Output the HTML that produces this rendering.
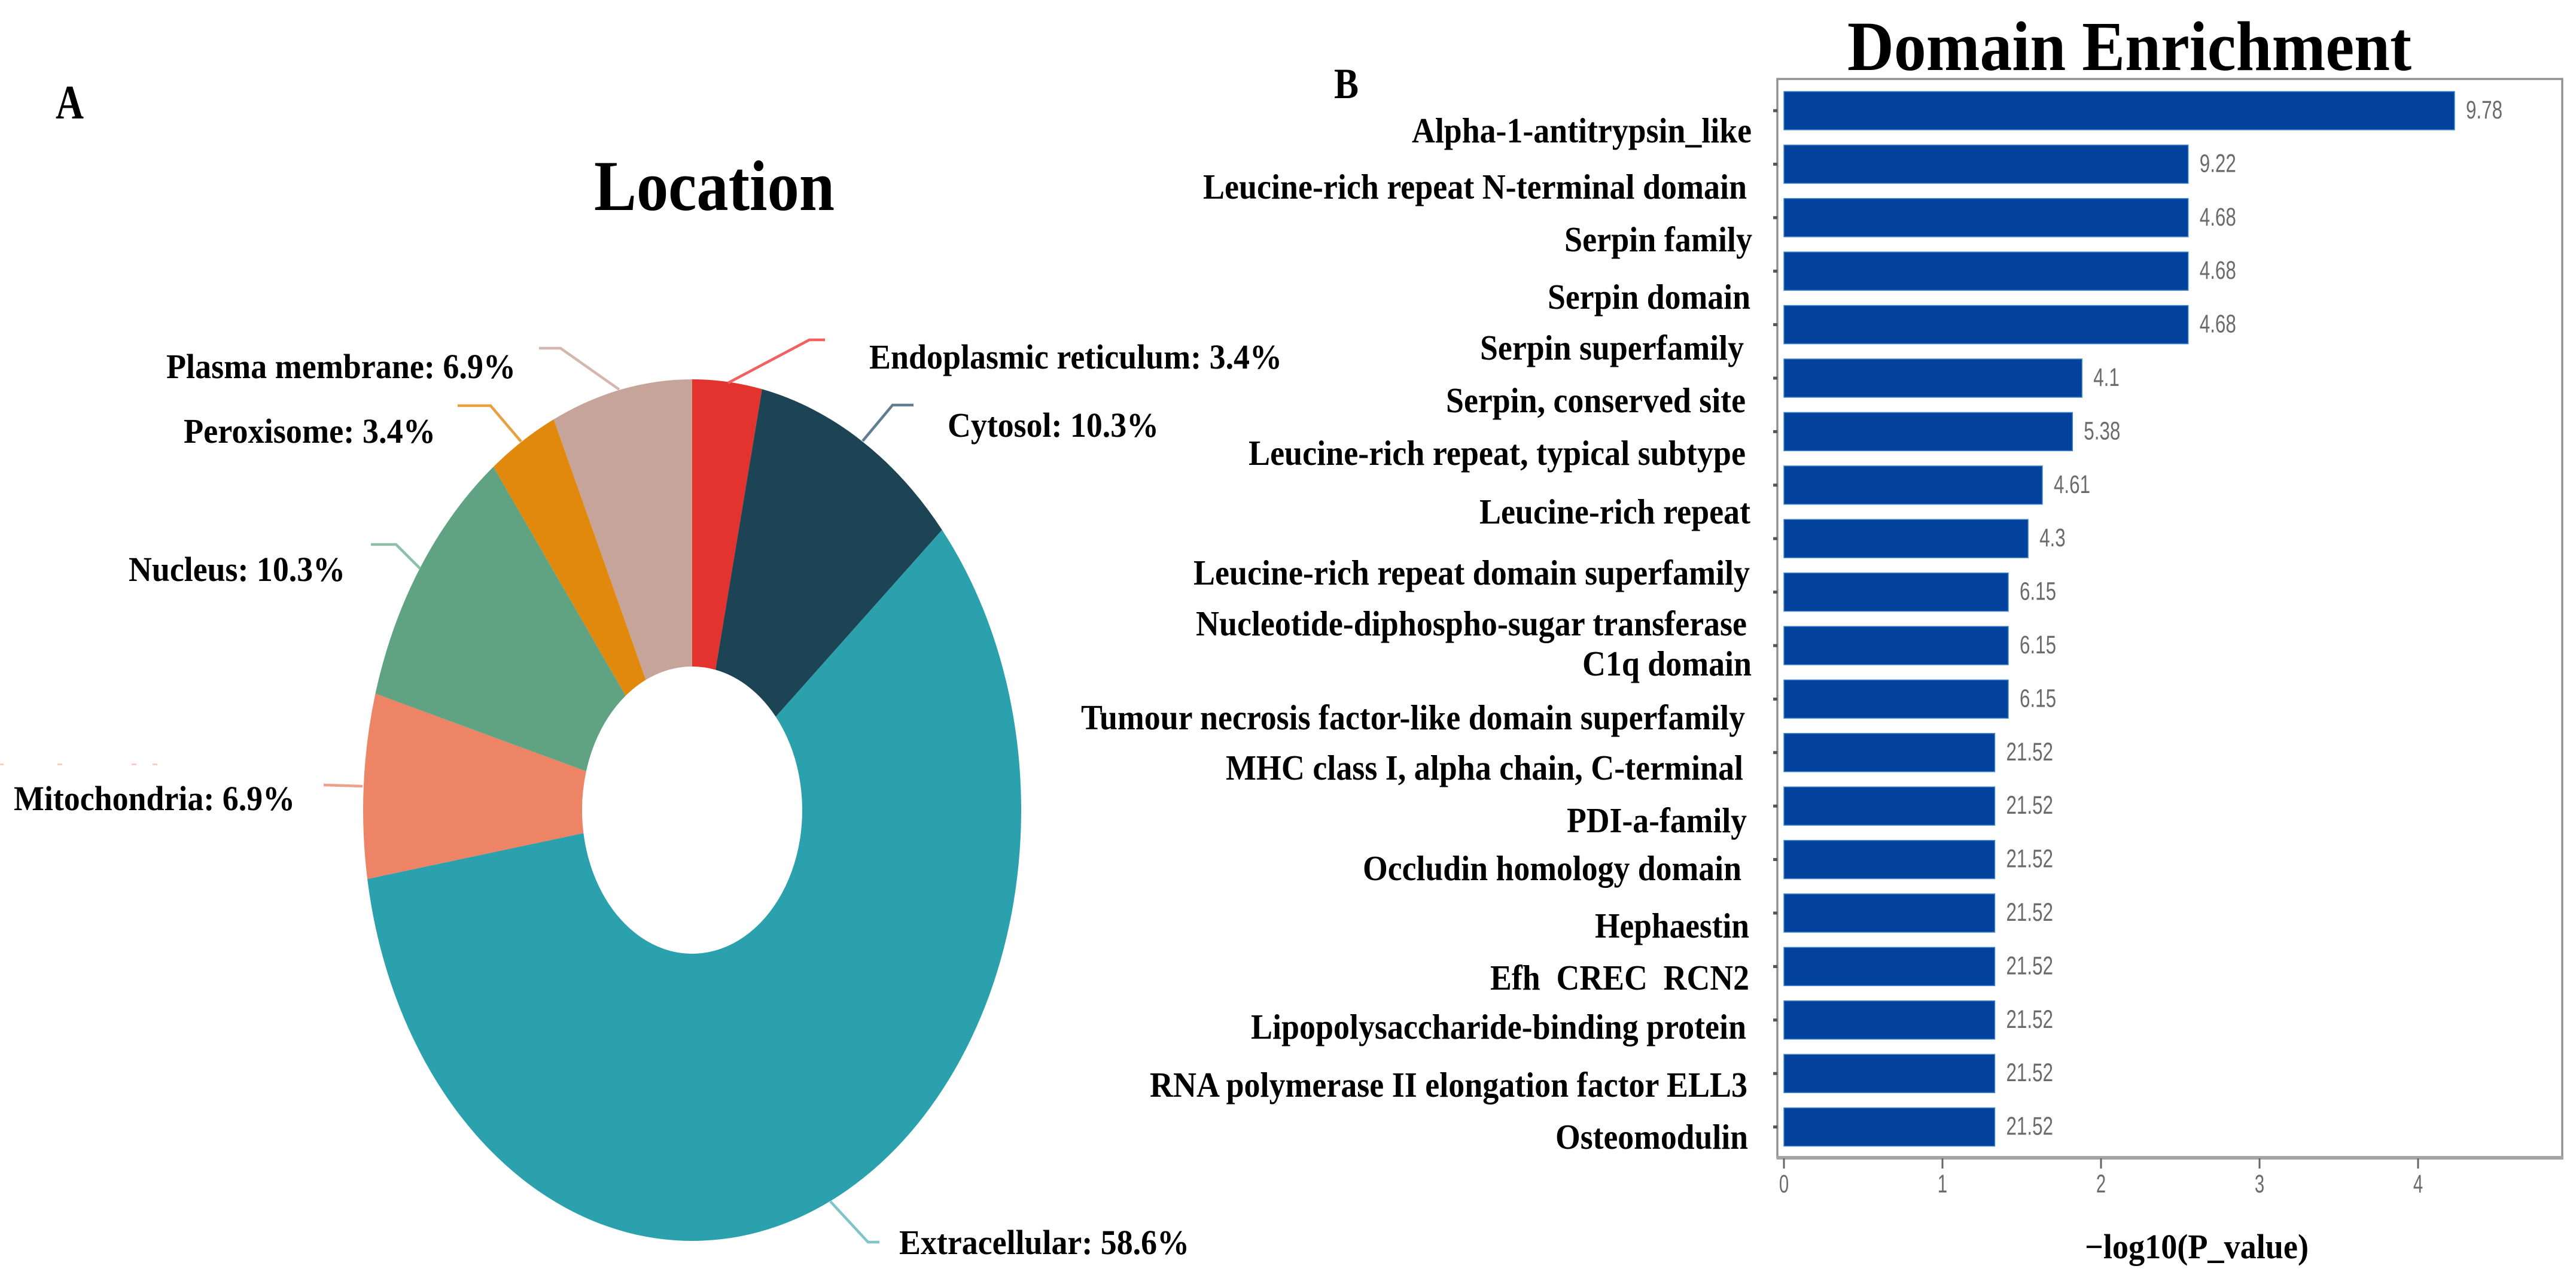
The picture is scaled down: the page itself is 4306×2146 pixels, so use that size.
<!DOCTYPE html>
<html lang="en">
<head>
<meta charset="utf-8">
<title>Location and Domain Enrichment</title>
<style>
  html, body { margin: 0; padding: 0; background: #ffffff; }
  svg { display: block; }
  .serif { font-family: "Liberation Serif", serif; font-weight: 700; fill: #000000; }
  .sans { font-family: "Liberation Sans", sans-serif; fill: #6b6b6b; }
  .leader { fill: none; stroke-width: 4.5; }
</style>
</head>
<body>
<svg id="figure" xmlns="http://www.w3.org/2000/svg" width="4306" height="2146" viewBox="0 0 4306 2146">
  <rect width="4306" height="2146" fill="#ffffff"/>

  <text class="serif" x="93" y="198" font-size="80" textLength="47" lengthAdjust="spacingAndGlyphs">A</text>
  <text class="serif" x="993" y="351" font-size="120" textLength="402" lengthAdjust="spacingAndGlyphs">Location</text>

  <g fill="#f8cfc2">
    <rect x="0" y="1276" width="6" height="3"/>
    <rect x="96" y="1276" width="8" height="3"/>
    <rect x="220" y="1276" width="8" height="3"/>
    <rect x="255" y="1276" width="8" height="3"/>
  </g>

  <g id="donut"></g>

  <g>
    <polyline class="leader" stroke="#f2605f" points="1217,640 1353,568 1379,568"/>
    <polyline class="leader" stroke="#5f7f90" points="1442,737 1492,677 1527,677"/>
    <polyline class="leader" stroke="#7fc4c8" points="1388,2008 1451,2076 1470,2076"/>
    <polyline class="leader" stroke="#f0a08a" stroke-width="7" points="606,1314 575,1313 541,1312"/>
    <polyline class="leader" stroke="#8fbfa8" points="702,950 662,910 620,910"/>
    <polyline class="leader" stroke="#e8a040" points="871,738 820,678 765,678"/>
    <polyline class="leader" stroke="#d4b8b0" points="1035,651 937,582 901,582"/>
  </g>

  <g font-size="58">
    <text class="serif" x="1453" y="616" textLength="690" lengthAdjust="spacingAndGlyphs">Endoplasmic reticulum: 3.4%</text>
    <text class="serif" x="1584" y="730" textLength="353" lengthAdjust="spacingAndGlyphs">Cytosol: 10.3%</text>
    <text class="serif" x="1503" y="2096" textLength="485" lengthAdjust="spacingAndGlyphs">Extracellular: 58.6%</text>
    <text class="serif" x="23" y="1354" textLength="470" lengthAdjust="spacingAndGlyphs">Mitochondria: 6.9%</text>
    <text class="serif" x="215" y="971" textLength="362" lengthAdjust="spacingAndGlyphs">Nucleus: 10.3%</text>
    <text class="serif" x="307" y="740" textLength="421" lengthAdjust="spacingAndGlyphs">Peroxisome: 3.4%</text>
    <text class="serif" x="278" y="632" textLength="584" lengthAdjust="spacingAndGlyphs">Plasma membrane: 6.9%</text>
  </g>

  <text class="serif" x="2230" y="164" font-size="72" textLength="41" lengthAdjust="spacingAndGlyphs">B</text>
  <text class="serif" x="3088" y="117" font-size="118" textLength="943" lengthAdjust="spacingAndGlyphs">Domain Enrichment</text>

  <rect x="2971" y="132" width="1312" height="1803" fill="none" stroke="#929292" stroke-width="3.5"/>
  <rect x="2970" y="1932" width="1315" height="6" fill="#a4a4a4"/>

  <g id="bars"></g>
  <g id="xaxis"></g>

  <g font-size="59">
    <text class="serif" x="2360" y="238" textLength="568" lengthAdjust="spacingAndGlyphs">Alpha-1-antitrypsin_like</text>
    <text class="serif" x="2011" y="332" textLength="909" lengthAdjust="spacingAndGlyphs">Leucine-rich repeat N-terminal domain</text>
    <text class="serif" x="2615" y="420" textLength="314" lengthAdjust="spacingAndGlyphs">Serpin family</text>
    <text class="serif" x="2587" y="516" textLength="339" lengthAdjust="spacingAndGlyphs">Serpin domain</text>
    <text class="serif" x="2474" y="601" textLength="441" lengthAdjust="spacingAndGlyphs">Serpin superfamily</text>
    <text class="serif" x="2417" y="689" textLength="501" lengthAdjust="spacingAndGlyphs">Serpin, conserved site</text>
    <text class="serif" x="2087" y="777" textLength="831" lengthAdjust="spacingAndGlyphs">Leucine-rich repeat, typical subtype</text>
    <text class="serif" x="2473" y="875" textLength="453" lengthAdjust="spacingAndGlyphs">Leucine-rich repeat</text>
    <text class="serif" x="1995" y="977" textLength="930" lengthAdjust="spacingAndGlyphs">Leucine-rich repeat domain superfamily</text>
    <text class="serif" x="1999" y="1062" textLength="921" lengthAdjust="spacingAndGlyphs">Nucleotide-diphospho-sugar transferase</text>
    <text class="serif" x="2645" y="1129" textLength="283" lengthAdjust="spacingAndGlyphs">C1q domain</text>
    <text class="serif" x="1807" y="1219" textLength="1110" lengthAdjust="spacingAndGlyphs">Tumour necrosis factor-like domain superfamily</text>
    <text class="serif" x="2049" y="1303" textLength="865" lengthAdjust="spacingAndGlyphs">MHC class I, alpha chain, C-terminal</text>
    <text class="serif" x="2619" y="1391" textLength="301" lengthAdjust="spacingAndGlyphs">PDI-a-family</text>
    <text class="serif" x="2278" y="1471" textLength="633" lengthAdjust="spacingAndGlyphs">Occludin homology domain</text>
    <text class="serif" x="2666" y="1567" textLength="258" lengthAdjust="spacingAndGlyphs">Hephaestin</text>
    <text class="serif" x="2491" y="1654" textLength="433" lengthAdjust="spacingAndGlyphs" xml:space="preserve">Efh  CREC  RCN2</text>
    <text class="serif" x="2091" y="1736" textLength="828" lengthAdjust="spacingAndGlyphs">Lipopolysaccharide-binding protein</text>
    <text class="serif" x="1922" y="1833" textLength="999" lengthAdjust="spacingAndGlyphs">RNA polymerase II elongation factor ELL3</text>
    <text class="serif" x="2600" y="1920" textLength="322" lengthAdjust="spacingAndGlyphs">Osteomodulin</text>
  </g>

  <text class="serif" x="3485" y="2103" font-size="58" textLength="374" lengthAdjust="spacingAndGlyphs">−log10(P_value)</text>
</svg>

<script>
const sliceNames = ["Endoplasmic reticulum", "Cytosol", "Extracellular", "Mitochondria", "Nucleus", "Peroxisome", "Plasma membrane"];
const slicePercents = [3.4, 10.3, 58.6, 6.9, 10.3, 3.4, 6.9];
const sliceColors = ["#e2332e", "#1c4454", "#2ba1ad", "#ee8466", "#60a382", "#e0890d", "#c7a49a"];

const domainNames = ["Alpha-1-antitrypsin_like", "Leucine-rich repeat N-terminal domain", "Serpin family", "Serpin domain", "Serpin superfamily", "Serpin, conserved site", "Leucine-rich repeat, typical subtype", "Leucine-rich repeat", "Leucine-rich repeat domain superfamily", "Nucleotide-diphospho-sugar transferase", "C1q domain", "Tumour necrosis factor-like domain superfamily", "MHC class I, alpha chain, C-terminal", "PDI-a-family", "Occludin homology domain", "Hephaestin", "Efh CREC RCN2", "Lipopolysaccharide-binding protein", "RNA polymerase II elongation factor ELL3", "Osteomodulin"];
const pValueLog = [4.23, 2.55, 2.55, 2.55, 2.55, 1.88, 1.82, 1.63, 1.54, 1.415, 1.415, 1.415, 1.33, 1.33, 1.33, 1.33, 1.33, 1.33, 1.33, 1.33];
const barLabels = ["9.78", "9.22", "4.68", "4.68", "4.68", "4.1", "5.38", "4.61", "4.3", "6.15", "6.15", "6.15", "21.52", "21.52", "21.52", "21.52", "21.52", "21.52", "21.52", "21.52"];
const xTicks = [0, 1, 2, 3, 4];

const NS = "http://www.w3.org/2000/svg";
function make(tag, attrs, parent) {
  const node = document.createElementNS(NS, tag);
  for (const key in attrs) node.setAttribute(key, attrs[key]);
  parent.appendChild(node);
  return node;
}
function slug(text) {
  return text.toLowerCase().replace(/[^a-z0-9]+/g, "-").replace(/^-|-$/g, "");
}

/* Donut */
const cx = 1157, cy = 1354, outerRx = 550, outerRy = 720, innerRx = 184, innerRy = 240;
function ellipsePoint(rx, ry, angle) {
  return [cx + rx * Math.sin(angle), cy - ry * Math.cos(angle)];
}
const donut = document.getElementById("donut");
const total = slicePercents.reduce(function (a, b) { return a + b; }, 0);
let running = 0;
slicePercents.forEach(function (value, i) {
  const a0 = running / total * 2 * Math.PI;
  running += value;
  const a1 = running / total * 2 * Math.PI;
  const large = a1 - a0 > Math.PI ? 1 : 0;
  const p0 = ellipsePoint(outerRx, outerRy, a0);
  const p1 = ellipsePoint(outerRx, outerRy, a1);
  const q1 = ellipsePoint(innerRx, innerRy, a1);
  const q0 = ellipsePoint(innerRx, innerRy, a0);
  const d = "M" + q0[0] + " " + q0[1] +
    " L" + p0[0] + " " + p0[1] +
    " A" + outerRx + " " + outerRy + " 0 " + large + " 1 " + p1[0] + " " + p1[1] +
    " L" + q1[0] + " " + q1[1] +
    " A" + innerRx + " " + innerRy + " 0 " + large + " 0 " + q0[0] + " " + q0[1] + " Z";
  const slice = make("path", { d: d, fill: sliceColors[i] }, donut);
  
  
});

/* Bars */
const x0 = 2982, unit = 265, firstBarTop = 153, barPitch = 89.4, barHeight = 64;
function xScale(v) { return x0 + unit * v; }
function yScale(i) { return firstBarTop + barPitch * i; }

const barsGroup = document.getElementById("bars");
pValueLog.forEach(function (value, i) {
  const y = yScale(i);
  const bar = make("rect", { x: x0, y: y, width: xScale(value) - x0, height: barHeight, fill: "#03429c", stroke: "#3f86cc", "stroke-width": 1.5 }, barsGroup);
  
  

  const tick = make("rect", { x: 2964, y: y + barHeight / 2 - 2.5, width: 7, height: 5, fill: "#555555" }, barsGroup);
  
  

  const label = make("text", { class: "sans", transform: "translate(" + (xScale(value) + 19) + " " + (y + barHeight / 2 + 13) + ") scale(0.73 1)", "font-size": 43 }, barsGroup);
  label.textContent = barLabels[i];
  
  
});

/* X axis */
const axisGroup = document.getElementById("xaxis");
xTicks.forEach(function (value) {
  const x = xScale(value);
  const tick = make("line", { x1: x, x2: x, y1: 1936, y2: 1953, stroke: "#666666", "stroke-width": 3 }, axisGroup);
  
  

  const label = make("text", { class: "sans", transform: "translate(" + x + " 1993) scale(0.68 1)", "font-size": 43, "text-anchor": "middle" }, axisGroup);
  label.textContent = String(value);
  
  
});
</script>
</body>
</html>
